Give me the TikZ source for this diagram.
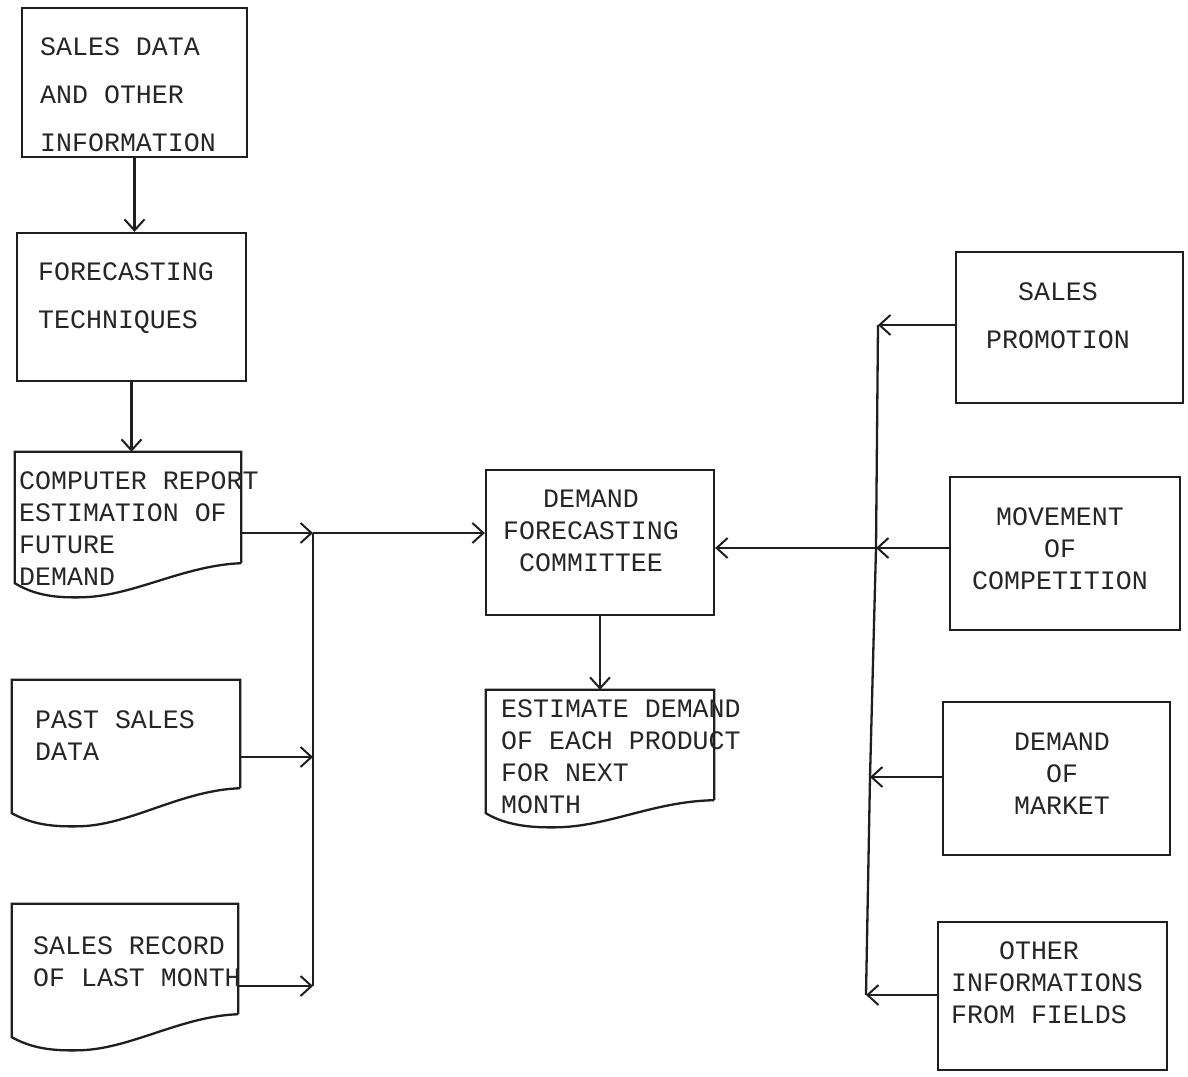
\documentclass[tikz,border=0pt]{standalone}
\usepackage{fontspec}
\newfontfamily\tw{Liberation Mono}
\usetikzlibrary{arrows.meta}
\tikzset{
  ln/.style={line width=2.3pt, draw=black!88},
  box/.style={ln, rectangle, inner sep=0pt},
  ghost/.style={rectangle, inner sep=0pt, draw=none},
  txt/.style={inner sep=0pt, text=black!85, font={\fontsize{26.6}{32}\selectfont\tw}},
  wide/.style={font={\fontsize{26.6}{48}\selectfont\tw}},
  arr/.style={ln, -{Straight Barb[length=11pt,width=20pt,line width=2pt]}},
}
\begin{document}
\begin{tikzpicture}[x=1pt,y=-1pt]
\useasboundingbox (0,0) rectangle (1188,1076);
\fill[white] (0,0) rectangle (1188,1076);

% left column boxes
\node[box, minimum width=225pt, minimum height=149pt] (sd) at (134.5,82.5) {};
\node[box, minimum width=229pt, minimum height=148pt] (ft) at (131.5,307) {};
% document shapes (frames as ghost nodes, outlines drawn)
\node[ghost, minimum width=226pt, minimum height=111pt] (cr) at (128,507.5) {};
\node[ghost, minimum width=228pt, minimum height=108pt] (ps) at (126,734) {};
\node[ghost, minimum width=226pt, minimum height=110pt] (sr) at (125,959) {};
\node[box, minimum width=228pt, minimum height=145pt] (dfc) at (600,542.5) {};
\node[ghost, minimum width=228pt, minimum height=110pt] (ed) at (600,745) {};
% right column boxes
\node[box, minimum width=227pt, minimum height=151pt] (sp) at (1069.5,327.5) {};
\node[box, minimum width=230pt, minimum height=153pt] (mc) at (1065,553.5) {};
\node[box, minimum width=227pt, minimum height=153pt] (dm) at (1056.5,778.5) {};
\node[box, minimum width=229pt, minimum height=148pt] (oi) at (1052.5,996) {};

% document outlines (wavy bottom)
\draw[ln] (cr.south east) -- (cr.north east) -- (cr.north west) -- ([yshift=-20pt]cr.south west)
  .. controls ([xshift=20pt,yshift=-32pt]cr.south west) and ([xshift=40pt,yshift=-35pt]cr.south west) .. ([xshift=70pt,yshift=-34pt]cr.south west)
  .. controls ([xshift=120pt,yshift=-32pt]cr.south west) and ([xshift=170pt,yshift=-2pt]cr.south west) .. (cr.south east);
\draw[ln] (ps.south east) -- (ps.north east) -- (ps.north west) -- ([yshift=-25pt]ps.south west)
  .. controls ([xshift=20pt,yshift=-36pt]ps.south west) and ([xshift=40pt,yshift=-39pt]ps.south west) .. ([xshift=70pt,yshift=-38pt]ps.south west)
  .. controls ([xshift=120pt,yshift=-36pt]ps.south west) and ([xshift=170pt,yshift=-2pt]ps.south west) .. (ps.south east);
\draw[ln] (sr.south east) -- (sr.north east) -- (sr.north west) -- ([yshift=-23pt]sr.south west)
  .. controls ([xshift=20pt,yshift=-34pt]sr.south west) and ([xshift=40pt,yshift=-37pt]sr.south west) .. ([xshift=70pt,yshift=-36pt]sr.south west)
  .. controls ([xshift=120pt,yshift=-34pt]sr.south west) and ([xshift=170pt,yshift=-2pt]sr.south west) .. (sr.south east);
\draw[ln] (ed.south east) -- (ed.north east) -- (ed.north west) -- ([yshift=-13pt]ed.south west)
  .. controls ([xshift=20pt,yshift=-25pt]ed.south west) and ([xshift=45pt,yshift=-28pt]ed.south west) .. ([xshift=75pt,yshift=-27pt]ed.south west)
  .. controls ([xshift=125pt,yshift=-25pt]ed.south west) and ([xshift=170pt,yshift=-1pt]ed.south west) .. (ed.south east);

% texts
\node[txt, wide, anchor=north west, align=left] (tsd) at (40,37.5) {SALES DATA\\AND OTHER\\INFORMATION};
\node[txt, wide, anchor=north west, align=left] (tft) at (38,262.5) {FORECASTING\\TECHNIQUES};
\node[txt, anchor=north west, align=left] (tcr) at (19,471.5) {COMPUTER REPORT\\ESTIMATION OF\\FUTURE\\DEMAND};
\node[txt, anchor=north west, align=left] (tps) at (35,710.5) {PAST SALES\\DATA};
\node[txt, anchor=north west, align=left] (tsr) at (33,936.5) {SALES RECORD\\OF LAST MONTH};
\node[txt, anchor=north, align=center] (tdfc) at (591,489.5) {DEMAND\\FORECASTING\\COMMITTEE};
\node[txt, anchor=north west, align=left] (ted) at (501,699.5) {ESTIMATE DEMAND\\OF EACH PRODUCT\\FOR NEXT\\MONTH};
\node[txt, wide, anchor=north, align=center] (tsp) at (1058,282.5) {SALES\\PROMOTION};
\node[txt, anchor=north, align=center] (tmc) at (1060,507.5) {MOVEMENT\\OF\\COMPETITION};
\node[txt, anchor=north, align=center] (tdm) at (1062,732.5) {DEMAND\\OF\\MARKET};
\node[txt, anchor=north west, align=left] (toi) at (951,941.5) {\phantom{XXX}OTHER\\INFORMATIONS\\FROM FIELDS};

% left column flow
\draw[arr] (sd.south) -- (sd.south |- ft.north);
\draw[arr] (ft.south) -- (ft.south |- cr.north);

% left bus
\coordinate (lb1) at (313,533);
\coordinate (lb2) at (313,757);
\coordinate (lb3) at (313,986);
\draw[ln] (lb1) -- (lb3);
\draw[arr] (cr.east |- lb1) -- (lb1);
\draw[arr] (lb1) -- (lb1 -| dfc.west);
\draw[arr] (ps.east |- lb2) -- (lb2);
\draw[arr] (sr.east |- lb3) -- (lb3);

% committee to estimate
\draw[arr] (dfc.south) -- (dfc.south |- ed.north);

% right bus
\coordinate (rb1) at (878,325);
\coordinate (rb2) at (876,548);
\coordinate (rb3) at (870,777);
\coordinate (rb4) at (866,995);
\draw[ln] (rb1) -- (rb2) -- (rb3) -- (rb4);
\draw[arr] (sp.west |- rb1) -- (rb1);
\draw[arr] (mc.west |- rb2) -- (rb2);
\draw[arr] (rb2) -- (rb2 -| dfc.east);
\draw[arr] (dm.west |- rb3) -- (rb3);
\draw[arr] (oi.west |- rb4) -- (rb4);
\end{tikzpicture}
\end{document}
